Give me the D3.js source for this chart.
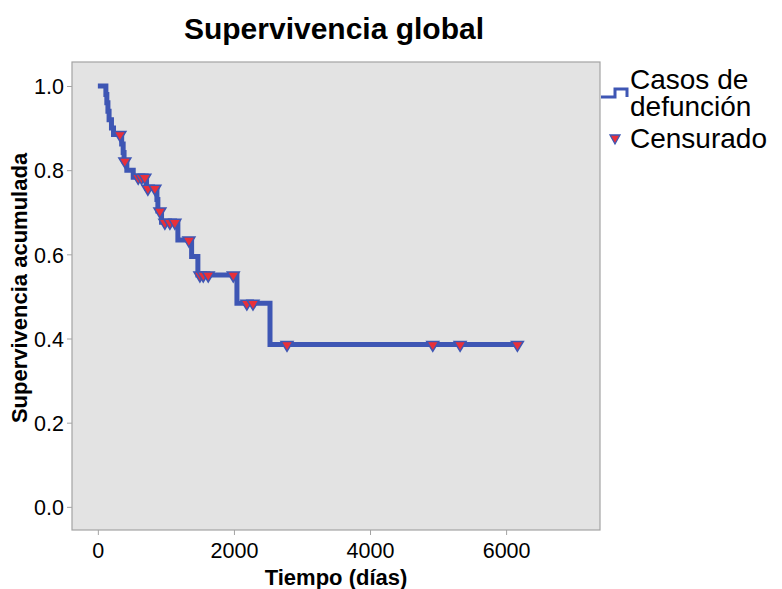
<!DOCTYPE html>
<html>
<head>
<meta charset="utf-8">
<script src="https://cdn.jsdelivr.net/npm/d3@7"></script>
<style>
  body { margin: 0; background: #fff; }
  text { font-family: "Liberation Sans", Arial, sans-serif; fill: #000; }
</style>
</head>
<body>
<div id="chart"></div>
<script>
// Kaplan-Meier steps: event times (days) and survival after each event
const stepTimes = [0, 118, 132, 148, 165, 200, 230, 350, 372, 385, 426, 520, 716, 868, 882, 936, 1176, 1378, 1470, 2044, 2530];
const stepSurv  = [1.0, 0.98, 0.96, 0.94, 0.92, 0.90, 0.885, 0.862, 0.842, 0.822, 0.80, 0.783, 0.757, 0.73, 0.703, 0.676, 0.634, 0.595, 0.551, 0.484, 0.386];
const lastTime = 6166;

// censored cases
const censorTimes = [324, 397, 593, 642, 690, 735, 838, 912, 985, 1059, 1132, 1338, 1500, 1549, 1622, 1990, 2190, 2280, 2780, 4922, 5324, 6166];
const censorSurv  = [0.885, 0.822, 0.783, 0.783, 0.783, 0.757, 0.757, 0.703, 0.676, 0.676, 0.676, 0.634, 0.551, 0.551, 0.551, 0.551, 0.484, 0.484, 0.386, 0.386, 0.386, 0.386];

const xTicks = [0, 2000, 4000, 6000];
const yTicks = [0, 0.2, 0.4, 0.6, 0.8, 1.0];

const width = 782, height = 589;
const plot = {left: 72, top: 62, right: 600, bottom: 530};
const blue = "#3e56b4", red = "#e8303a";

const svg = d3.select("#chart").append("svg")
    .attr("width", width)
    .attr("height", height);

const x = d3.scaleLinear().domain([-380, 7380]).range([plot.left, plot.right]);
const y = d3.scaleLinear().domain([-0.055, 1.057]).range([plot.bottom, plot.top]);

// plot background + frame
svg.append("rect")
    .attr("x", plot.left).attr("y", plot.top)
    .attr("width", plot.right - plot.left)
    .attr("height", plot.bottom - plot.top)
    .attr("fill", "#e3e3e3")
    .attr("stroke", "#a3a3a3")
    .attr("stroke-width", 1.2);

// axes
const xAxis = svg.append("g")
    .attr("transform", `translate(0,${plot.bottom})`)
    .call(d3.axisBottom(x).tickValues(xTicks).tickSize(5).tickPadding(8).tickFormat(d3.format("d")));
const yAxis = svg.append("g")
    .attr("transform", `translate(${plot.left},0)`)
    .call(d3.axisLeft(y).tickValues(yTicks).tickSize(5).tickPadding(3).tickFormat(d3.format(".1f")));

[xAxis, yAxis].forEach(a => {
    a.select(".domain").remove();
    a.selectAll(".tick line").attr("stroke", "#a3a3a3");
    a.selectAll(".tick text")
        .style("font-family", "'Liberation Sans', Arial, sans-serif")
        .style("font-size", "21.5px")
        .attr("fill", "#000");
});
yAxis.selectAll(".tick text").attr("dy", "0.36em");

// survival curve
const pts = stepTimes.map((t, i) => [t, stepSurv[i]]);
pts.push([lastTime, stepSurv[stepSurv.length - 1]]);

const line = d3.line()
    .x(d => x(d[0]))
    .y(d => y(d[1]))
    .curve(d3.curveStepAfter);

svg.append("path")
    .datum(pts)
    .attr("d", line)
    .attr("fill", "none")
    .attr("stroke", blue)
    .attr("stroke-width", 5)
    .attr("stroke-linejoin", "miter");

// censored markers
const tri = "M-6,-3L6,-3L0,7Z";
svg.append("g").selectAll("path")
    .data(censorTimes.map((t, i) => [t, censorSurv[i]]))
    .join("path")
    .attr("transform", d => `translate(${x(d[0])},${y(d[1])})`)
    .attr("d", tri)
    .attr("fill", red)
    .attr("stroke", blue)
    .attr("stroke-width", 1.5);

// titles
svg.append("text")
    .attr("x", 334).attr("y", 39)
    .attr("text-anchor", "middle")
    .style("font-size", "30px").style("font-weight", "bold")
    .text("Supervivencia global");

svg.append("text")
    .attr("x", 336).attr("y", 585)
    .attr("text-anchor", "middle")
    .style("font-size", "22px").style("font-weight", "bold")
    .text("Tiempo (días)");

svg.append("text")
    .attr("transform", "translate(27,288) rotate(-90)")
    .attr("text-anchor", "middle")
    .style("font-size", "22px").style("font-weight", "bold")
    .text("Supervivencia acumulada");

// legend
const legend = svg.append("g");
legend.append("path")
    .attr("d", "M601,97L615,97L615,89L627,89L627,97")
    .attr("fill", "none")
    .attr("stroke", blue)
    .attr("stroke-width", 3);
// wrapped label kept as one text with two lines
const lab = legend.append("text").attr("x", 630).attr("y", 89)
    .style("font-size", "28px");
lab.append("tspan").attr("x", 630).text("Casos de");
lab.append("tspan").attr("x", 630).attr("dy", 27).text("defunción");
legend.append("path")
    .attr("transform", "translate(615,139)")
    .attr("d", "M-5,-4L5,-4L0,5Z")
    .attr("fill", red)
    .attr("stroke", blue)
    .attr("stroke-width", 1.3);
legend.append("text").attr("x", 630).attr("y", 148)
    .style("font-size", "28px").text("Censurado");
</script>
</body>
</html>
